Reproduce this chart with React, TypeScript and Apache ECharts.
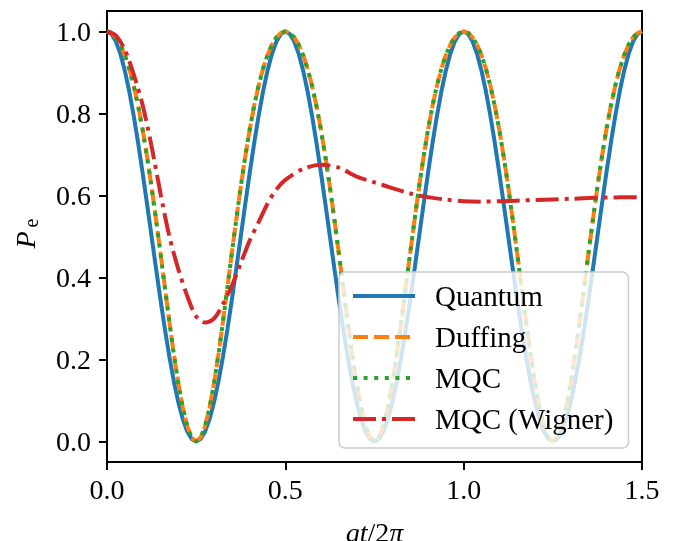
import React, { useEffect, useRef } from "react";
import * as echarts from "echarts";

// Sampling step of the time axis (gt/2π) for the oscillating curves
const T_STEP = 0.0125;

const quantum = [
  1, 0.9938, 0.9755, 0.9455, 0.9045, 0.8536, 0.7939, 0.727, 0.6545, 0.5782,
  0.5, 0.4218, 0.3455, 0.273, 0.2061, 0.1464, 0.0955, 0.0545, 0.0245, 0.0062,
  0, 0.0062, 0.0245, 0.0545, 0.0955, 0.1464, 0.2061, 0.273, 0.3455, 0.4218,
  0.5, 0.5782, 0.6545, 0.727, 0.7939, 0.8536, 0.9045, 0.9455, 0.9755, 0.9938,
  1, 0.9938, 0.9755, 0.9455, 0.9045, 0.8536, 0.7939, 0.727, 0.6545, 0.5782,
  0.5, 0.4218, 0.3455, 0.273, 0.2061, 0.1464, 0.0955, 0.0545, 0.0245, 0.0062,
  0, 0.0062, 0.0245, 0.0545, 0.0955, 0.1464, 0.2061, 0.273, 0.3455, 0.4218,
  0.5, 0.5782, 0.6545, 0.727, 0.7939, 0.8536, 0.9045, 0.9455, 0.9755, 0.9938,
  1, 0.9938, 0.9755, 0.9455, 0.9045, 0.8536, 0.7939, 0.727, 0.6545, 0.5782,
  0.5, 0.4218, 0.3455, 0.273, 0.2061, 0.1464, 0.0955, 0.0545, 0.0245, 0.0062,
  0, 0.0062, 0.0245, 0.0545, 0.0955, 0.1464, 0.2061, 0.273, 0.3455, 0.4218,
  0.5, 0.5782, 0.6545, 0.727, 0.7939, 0.8536, 0.9045, 0.9455, 0.9755, 0.9938,
  1,
];

const duffing = [
  1, 0.9965, 0.9858, 0.9679, 0.9424, 0.9091, 0.8676, 0.8179, 0.7599, 0.694,
  0.621, 0.5417, 0.4594, 0.3747, 0.2912, 0.2125, 0.1417, 0.0824, 0.0375, 0.0095,
  0, 0.0095, 0.0375, 0.0824, 0.1417, 0.2125, 0.2912, 0.3747, 0.4594, 0.5417,
  0.621, 0.694, 0.7599, 0.8179, 0.8676, 0.9091, 0.9424, 0.9679, 0.9858, 0.9965,
  1, 0.9965, 0.9858, 0.9679, 0.9424, 0.9091, 0.8676, 0.8179, 0.7599, 0.694,
  0.621, 0.5417, 0.4594, 0.3747, 0.2912, 0.2125, 0.1417, 0.0824, 0.0375, 0.0095,
  0, 0.0095, 0.0375, 0.0824, 0.1417, 0.2125, 0.2912, 0.3747, 0.4594, 0.5417,
  0.621, 0.694, 0.7599, 0.8179, 0.8676, 0.9091, 0.9424, 0.9679, 0.9858, 0.9965,
  1, 0.9965, 0.9858, 0.9679, 0.9424, 0.9091, 0.8676, 0.8179, 0.7599, 0.694,
  0.621, 0.5417, 0.4594, 0.3747, 0.2912, 0.2125, 0.1417, 0.0824, 0.0375, 0.0095,
  0, 0.0095, 0.0375, 0.0824, 0.1417, 0.2125, 0.2912, 0.3747, 0.4594, 0.5417,
  0.621, 0.694, 0.7599, 0.8179, 0.8676, 0.9091, 0.9424, 0.9679, 0.9858, 0.9965,
  1,
];

const mqc = [
  1, 0.9964, 0.9857, 0.9677, 0.9421, 0.9088, 0.8672, 0.8174, 0.7594, 0.6935,
  0.6204, 0.5411, 0.4588, 0.3742, 0.2908, 0.2122, 0.1415, 0.0823, 0.0374, 0.0095,
  0, 0.0095, 0.0376, 0.0826, 0.1419, 0.2128, 0.2916, 0.3752, 0.4599, 0.5422,
  0.6215, 0.6944, 0.7603, 0.8183, 0.8679, 0.9093, 0.9426, 0.968, 0.9859, 0.9965,
  1, 0.9964, 0.9857, 0.9677, 0.9421, 0.9088, 0.8672, 0.8174, 0.7594, 0.6935,
  0.6204, 0.5411, 0.4588, 0.3742, 0.2908, 0.2122, 0.1415, 0.0823, 0.0374, 0.0095,
  0, 0.0095, 0.0376, 0.0826, 0.1419, 0.2128, 0.2916, 0.3752, 0.4599, 0.5422,
  0.6215, 0.6944, 0.7603, 0.8183, 0.8679, 0.9093, 0.9426, 0.968, 0.9859, 0.9965,
  1, 0.9964, 0.9857, 0.9677, 0.9421, 0.9088, 0.8672, 0.8174, 0.7594, 0.6935,
  0.6204, 0.5411, 0.4588, 0.3742, 0.2908, 0.2122, 0.1415, 0.0823, 0.0374, 0.0095,
  0, 0.0095, 0.0376, 0.0826, 0.1419, 0.2128, 0.2916, 0.3752, 0.4599, 0.5422,
  0.6215, 0.6944, 0.7603, 0.8183, 0.8679, 0.9093, 0.9426, 0.968, 0.9859, 0.9965,
  1,
];

const wignerT = [
  0, 0.025, 0.05, 0.075, 0.1, 0.125, 0.15, 0.175, 0.2, 0.225, 0.25, 0.275,
  0.3, 0.325, 0.35, 0.375, 0.4, 0.425, 0.45, 0.475, 0.5, 0.55, 0.6, 0.65,
  0.7, 0.75, 0.8, 0.85, 0.9, 0.95, 1.0, 1.05, 1.1, 1.2, 1.3, 1.4, 1.5,
];
const wigner = [
  1.0, 0.99, 0.955, 0.895, 0.82, 0.72, 0.605, 0.5, 0.42, 0.355, 0.305, 0.29,
  0.3, 0.335, 0.38, 0.435, 0.49, 0.535, 0.58, 0.615, 0.638, 0.665, 0.675, 0.668,
  0.646, 0.632, 0.618, 0.605, 0.596, 0.59, 0.586, 0.585, 0.586, 0.589, 0.592, 0.595, 0.596,
];

const xTicks = [0, 0.5, 1.0, 1.5];
const yTicks = [0, 0.2, 0.4, 0.6, 0.8, 1.0];

const names = ["Quantum", "Duffing", "MQC", "MQC (Wigner)"];
const colors = ["#1f77b4", "#ff7f0e", "#2ca02c", "#d62728"];

const FONT = "Liberation Serif";
const FS = 28;
const LEGEND_FS = 29;

function toPairs(ys: number[]) {
  return ys.map((y, i) => [i * T_STEP, y]);
}

export default function App() {
  const ref = useRef<HTMLDivElement>(null);
  useEffect(() => {
    if (!ref.current) return;
    const chart = echarts.init(ref.current, null, { renderer: "svg" });
    const lw = 4;
    chart.setOption({
      animation: false,
      grid: {
        left: 107,
        right: 34,
        top: 11,
        bottom: 79,
        show: true,
        borderColor: "#000",
        borderWidth: 2,
        backgroundColor: "transparent",
        containLabel: false,
        outerBoundsMode: "none",
      },
      xAxis: {
        type: "value",
        min: 0,
        max: 1.5,
        interval: 0.5,
        name: "{i|gt}{n|/2}{i|π}",
        nameLocation: "middle",
        nameGap: 56,
        nameTextStyle: {
          rich: {
            i: { fontFamily: FONT, fontSize: FS, fontStyle: "italic", color: "#000" },
            n: { fontFamily: FONT, fontSize: FS, color: "#000" },
          },
        },
        axisLine: { show: true, onZero: false, lineStyle: { color: "#000", width: 2 } },
        axisTick: {
          show: true,
          length: 8,
          lineStyle: { color: "#000", width: 2 },
          customValues: xTicks,
        },
        axisLabel: {
          fontFamily: FONT,
          fontSize: FS,
          color: "#000",
          margin: 13,
          customValues: xTicks,
          formatter: (v: number) => v.toFixed(1),
        },
        splitLine: { show: false },
      },
      yAxis: {
        type: "value",
        min: -0.05,
        max: 1.05,
        axisLine: { show: true, onZero: false, lineStyle: { color: "#000", width: 2 } },
        axisTick: {
          show: true,
          length: 8,
          lineStyle: { color: "#000", width: 2 },
          customValues: yTicks,
        },
        axisLabel: {
          fontFamily: FONT,
          fontSize: FS,
          color: "#000",
          margin: 16,
          customValues: yTicks,
          formatter: (v: number) => v.toFixed(1),
        },
        splitLine: { show: false },
      },
      legend: {
        orient: "vertical",
        left: 339,
        top: 272,
        backgroundColor: "rgba(255,255,255,0.8)",
        borderColor: "#cccccc",
        borderWidth: 1.5,
        borderRadius: 6,
        padding: [9, 15, 14, 12],
        itemWidth: 62,
        itemHeight: 14,
        itemGap: 11,
        itemStyle: { color: "rgba(0,0,0,0)", borderWidth: 0, opacity: 0 },
        lineStyle: { width: 4 },
        textStyle: {
          fontFamily: FONT,
          fontSize: LEGEND_FS,
          color: "#000",
          lineHeight: 30,
          padding: [0, 0, 0, 15],
        },
        data: names,
      },
      graphic: [
        {
          type: "text",
          x: 25,
          y: 240,
          rotation: Math.PI / 2,
          style: {
            text: "P",
            font: `italic ${FS}px '${FONT}'`,
            fill: "#000",
            align: "center",
            verticalAlign: "middle",
          },
        },
        {
          type: "text",
          x: 31,
          y: 223,
          rotation: Math.PI / 2,
          style: {
            text: "e",
            font: `20px '${FONT}'`,
            fill: "#000",
            align: "center",
            verticalAlign: "middle",
          },
        },
      ],
      series: [
        {
          name: names[0],
          type: "line",
          data: toPairs(quantum),
          symbol: "none",
          color: colors[0],
          lineStyle: { color: colors[0], width: lw, type: "solid" },
        },
        {
          name: names[1],
          type: "line",
          data: toPairs(duffing),
          symbol: "none",
          color: colors[1],
          lineStyle: { color: colors[1], width: lw, type: [15, 6] },
        },
        {
          name: names[2],
          type: "line",
          data: toPairs(mqc),
          symbol: "none",
          color: colors[2],
          lineStyle: { color: colors[2], width: lw, type: [4, 6.6] },
        },
        {
          name: names[3],
          type: "line",
          data: wignerT.map((t, i) => [t, wigner[i]]),
          symbol: "none",
          smooth: 0.3,
          color: colors[3],
          lineStyle: { color: colors[3], width: lw, type: [23, 6, 4, 6] },
        },
      ],
    });
    return () => chart.dispose();
  }, []);
  return (
    <div
      ref={ref}
      style={{ position: "fixed", left: 0, top: 0, width: 676, height: 541 }}
    />
  );
}
